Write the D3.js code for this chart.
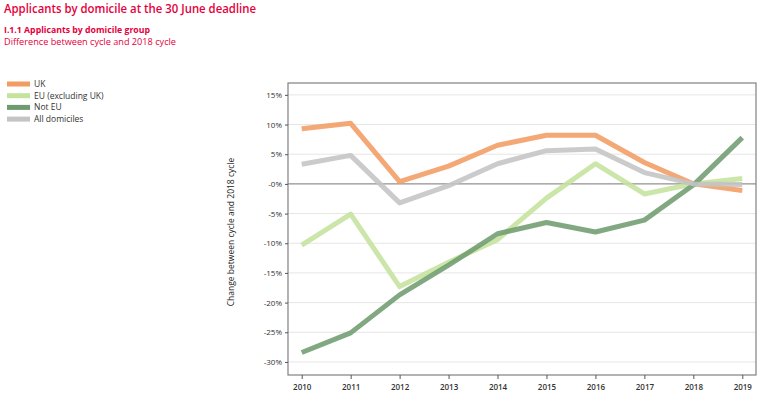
<!DOCTYPE html>
<html>
<head>
<meta charset="utf-8">
<script src="https://cdn.jsdelivr.net/npm/d3@7"></script>
<style>
  body { margin: 0; background: #fff; }
  text { font-family: "Open Sans", sans-serif; }
</style>
</head>
<body>
<div id="chart"></div>
<script>
const width = 768;
const height = 401;

const years = [2010, 2011, 2012, 2013, 2014, 2015, 2016, 2017, 2018, 2019];
const uk = [9.3, 10.2, 0.4, 3.0, 6.5, 8.2, 8.2, 3.6, 0.0, -1.1];
const eu = [-10.3, -5.1, -17.3, -13.2, -9.4, -2.4, 3.4, -1.7, 0.0, 0.9];
const notEu = [-28.4, -25.1, -18.7, -13.7, -8.4, -6.5, -8.1, -6.1, -0.2, 7.8];
const allDom = [3.3, 4.8, -3.2, -0.3, 3.4, 5.6, 5.9, 1.9, 0.0, -0.1];
const yTicks = [15, 10, 5, 0, -5, -10, -15, -20, -25, -30];

const series = [
  { name: "UK", values: uk, color: "#f19c63" },
  { name: "EU (excluding UK)", values: eu, color: "#c4e39c" },
  { name: "Not EU", values: notEu, color: "#6f9c6f" },
  { name: "All domiciles", values: allDom, color: "#c4c4c4" }
];

const svg = d3.select("#chart")
  .append("svg")
  .attr("width", width)
  .attr("height", height);

// titles
const red = "#e4003b";
svg.append("text").attr("x", 4).attr("y", 13)
  .attr("fill", red).attr("font-size", 13).attr("font-weight", 600)
  .attr("textLength", 252).attr("lengthAdjust", "spacingAndGlyphs")
  .text("Applicants by domicile at the 30 June deadline");
svg.append("text").attr("x", 4).attr("y", 33)
  .attr("fill", red).attr("font-size", 9.5).attr("font-weight", 700)
  .attr("textLength", 146).attr("lengthAdjust", "spacingAndGlyphs")
  .text("I.1.1 Applicants by domicile group");
svg.append("text").attr("x", 4).attr("y", 45)
  .attr("fill", red).attr("font-size", 9.5)
  .attr("textLength", 172).attr("lengthAdjust", "spacingAndGlyphs")
  .text("Difference between cycle and 2018 cycle");

// legend
const legend = svg.append("g").attr("transform", "translate(7 84)");
series.forEach((s, i) => {
  const row = legend.append("g").attr("transform", `translate(0 ${i * 11.7})`);
  row.append("rect").attr("x", 0).attr("y", -2.5).attr("width", 23).attr("height", 5)
    .attr("fill", s.color);
  row.append("text").attr("x", 27).attr("y", 3).attr("font-size", 8.5)
    .attr("fill", "#333").text(s.name);
});

// plot area
const plotL = 288, plotR = 756, plotT = 83, plotB = 375;

const x = d3.scalePoint()
  .domain(years)
  .range([plotL, plotR])
  .padding(0.28);

const y = d3.scaleLinear()
  .domain([-32.2, 17.0])
  .range([plotB, plotT]);

// gridlines
svg.append("g")
  .selectAll("line")
  .data(yTicks.filter(d => d !== 0))
  .join("line")
  .attr("x1", plotL).attr("x2", plotR)
  .attr("y1", d => y(d)).attr("y2", d => y(d))
  .attr("stroke", "#e6e6e6").attr("stroke-width", 1);

// zero line
svg.append("line")
  .attr("x1", plotL).attr("x2", plotR)
  .attr("y1", y(0)).attr("y2", y(0))
  .attr("stroke", "#777").attr("stroke-width", 1);

// lines
const line = d3.line()
  .x((d, i) => x(years[i]))
  .y(d => y(d));

svg.append("g")
  .selectAll("path")
  .data(series)
  .join("path")
  .attr("d", d => line(d.values))
  .attr("fill", "none")
  .attr("stroke", d => d.color)
  .attr("stroke-width", 5)
  .attr("stroke-opacity", 0.88)
  .attr("stroke-linejoin", "round");

// frame
svg.append("rect")
  .attr("x", plotL).attr("y", plotT)
  .attr("width", plotR - plotL).attr("height", plotB - plotT)
  .attr("fill", "none").attr("stroke", "#808080").attr("stroke-width", 1.2);

// axes
const yAxis = svg.append("g")
  .attr("transform", `translate(${plotL},0)`)
  .call(d3.axisLeft(y).tickValues(yTicks).tickSize(3).tickPadding(3)
    .tickFormat(d => (d === 0 ? "-0" : d) + "%"));
yAxis.select(".domain").remove();

const xAxis = svg.append("g")
  .attr("transform", `translate(0,${plotB})`)
  .call(d3.axisBottom(x).tickSize(4).tickPadding(5).tickFormat(d3.format("d")));
xAxis.select(".domain").remove();

svg.selectAll(".tick text")
  .attr("font-family", "Open Sans, sans-serif")
  .attr("font-size", 8)
  .attr("fill", "#333");
xAxis.selectAll(".tick text").attr("font-weight", 600);
svg.selectAll(".tick line").attr("stroke", "#555");

// y-axis title
svg.append("text")
  .attr("transform", `translate(234 ${(plotT + plotB) / 2 + 3}) rotate(-90)`)
  .attr("text-anchor", "middle")
  .attr("font-size", 8.5)
  .attr("font-weight", 500)
  .attr("fill", "#222")
  .text("Change between cycle and 2018 cycle");
</script>
</body>
</html>
